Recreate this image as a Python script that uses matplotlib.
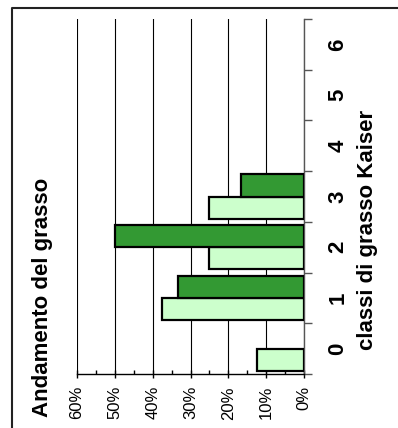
import numpy as np
import matplotlib
matplotlib.use("Agg")
import matplotlib.pyplot as plt
from matplotlib.lines import Line2D
from matplotlib.ticker import PercentFormatter

plt.rcParams['font.family'] = ['Liberation Sans', 'DejaVu Sans']

categories = ['0', '1', '2', '3', '4', '5', '6']
serie_chiara = [12.5, 37.5, 25.0, 25.0, 0, 0, 0]
serie_scura = [0, 33.3, 50.0, 16.7, 0, 0, 0]
value_ticks = [0, 10, 20, 30, 40, 50, 60]
title = 'Andamento del grasso'
cat_title = 'classi di grasso Kaiser'

W, H = 398, 428
fig = plt.figure(figsize=(W / 100, H / 100), dpi=100)
ax = fig.add_axes([77 / W, (H - 374) / H, 227 / W, 355 / H])

y = np.arange(len(categories))
h = 0.434
lw_l = [1.6 if v > 0 else 0 for v in serie_chiara]
lw_d = [1.6 if v > 0 else 0 for v in serie_scura]
ax.barh(y - h / 2, serie_chiara, height=h, color='#CCFFCC', edgecolor='black',
        linewidth=lw_l, zorder=3)
ax.barh(y + h / 2, serie_scura, height=h, color='#339933', edgecolor='black',
        linewidth=lw_d, zorder=3)

ax.set_xlim(60, 0)
ax.set_ylim(-0.5, len(categories) - 0.5)

ax.set_xticks(value_ticks)
ax.set_xticks(np.arange(5, 60, 10), minor=True)
ax.xaxis.set_major_formatter(PercentFormatter(decimals=0))
ax.xaxis.grid(True, which='major', color='black', linewidth=0.8, zorder=0)
ax.set_axisbelow(True)

for s in ['top', 'left']:
    ax.spines[s].set_visible(False)
ax.spines['right'].set_color('#555555')
ax.spines['right'].set_linewidth(1.0)
ax.spines['bottom'].set_color('black')
ax.spines['bottom'].set_linewidth(1.0)

ax.tick_params(axis='x', which='major', direction='inout', length=5.76, width=1,
               pad=5.8, labelsize=12)
ax.tick_params(axis='x', which='minor', direction='in', length=2.9, width=1)
plt.setp(ax.get_xticklabels(), rotation=90, ha='center', va='top')

ax.yaxis.tick_right()
ax.set_yticks(y, labels=categories)
ax.set_yticks(np.arange(-0.5, len(categories), 1), minor=True)
ax.tick_params(axis='y', which='major', length=0, pad=24.5, labelsize=16)
ax.tick_params(axis='y', which='minor', direction='out', length=5.76, width=1,
               color='#555555')
plt.setp(ax.get_yticklabels(), rotation=90, ha='center', va='center',
         fontweight='bold')

ax.yaxis.set_label_position('right')
ax.set_ylabel(cat_title, fontsize=16, fontweight='bold', rotation=90)
ax.yaxis.label.set_va('center')
ax.yaxis.label.set_ha('center')
ax.yaxis.set_label_coords((368 - 77) / 227, (374 - 230) / 355)

fig.text(43 / W, 1 - 297 / H, title, rotation=90, ha='center', va='center',
         fontsize=16, fontweight='bold')

fig.add_artist(Line2D([12 / W, 12 / W, 1.0], [0, 1 - 8 / H, 1 - 8 / H],
                      transform=fig.transFigure, color='#222222', linewidth=1.5))

fig.savefig('out.png', dpi=100)
